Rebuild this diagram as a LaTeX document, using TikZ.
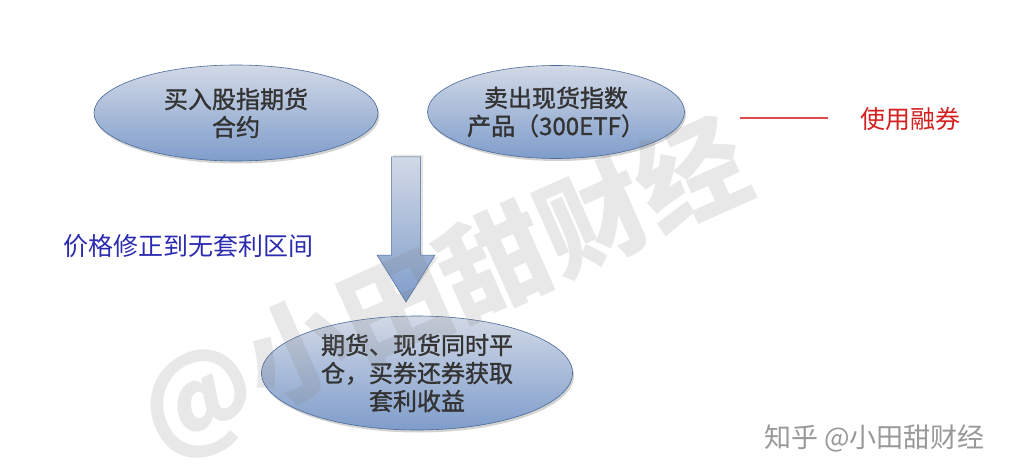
\documentclass[tikz,border=0pt]{standalone}
\usepackage{fontspec}
\setmainfont{Noto Sans CJK SC}
\newfontfamily\cjk{Noto Sans CJK SC}
\newfontfamily\cjkm[FakeBold=1.3]{Noto Sans CJK SC}
\usetikzlibrary{shadows,shapes.geometric}
\definecolor{ovtop}{HTML}{D2D9E6}
\definecolor{ovbot}{HTML}{7F9DCB}
\definecolor{ovline}{HTML}{4A6A9A}
\definecolor{notblue}{HTML}{2B2BB0}
\definecolor{notred}{HTML}{D42020}
\begin{document}
\begin{tikzpicture}[x=1pt,y=-1pt,
  oval/.style={ellipse, draw=ovline, line width=0.6pt,
    top color=ovtop, bottom color=ovbot,
    drop shadow={shadow xshift=1.5pt, shadow yshift=-2.5pt, opacity=0.35},
    inner sep=0pt, align=center, font=\cjkm\fontsize{24}{28}\selectfont, text=black!80},
  note/.style={font=\cjk\fontsize{25}{28}\selectfont, anchor=west, inner sep=0pt}]
\useasboundingbox (0,0) rectangle (1024,473);
\fill[white] (0,0) rectangle (1024,473);
\node[oval, minimum width=284pt, minimum height=96pt] (a) at (236,113) {买入股指期货\\合约};
\node[oval, minimum width=257pt, minimum height=93pt] (b) at (556,112) {卖出现货指数\\产品（300ETF）};
\node[oval, minimum width=311pt, minimum height=114pt] (c) at (417,373) {期货、现货同时平\\仓，买券还券获取\\套利收益};
\coordinate (arrtop) at (406,157);
\coordinate (arrtip) at (406,302);
\fill[gray!40, opacity=0.5] ([xshift=-13pt,yshift=2pt]arrtop) -- ([xshift=17pt,yshift=2pt]arrtop) -- ([xshift=17pt]406,257) -- ([xshift=32pt]406,257) -- ([yshift=3pt, xshift=2pt]arrtip) -- ([xshift=-27pt]406,257) -- ([xshift=-13pt]406,257) -- cycle;
\shade[top color=ovtop, bottom color=ovbot, draw=ovline, line width=0.5pt]
  ([xshift=-14.5pt]arrtop) -- ([xshift=14.5pt]arrtop) -- ([xshift=14.5pt]406,255) -- ([xshift=29pt]406,255) -- (arrtip) -- ([xshift=-29pt]406,255) -- ([xshift=-14.5pt]406,255) -- cycle;
\node[note, text=notblue] (fix) at (63,246) {价格修正到无套利区间};
\coordinate (rl1) at (740,118);
\coordinate (rl2) at (828,118);
\draw[notred!80, line width=1.5pt] (rl1) -- (rl2);
\node[note, text=notred] (rq) at (860,119) {使用融券};
\node[font=\cjk\bfseries\fontsize{108}{108}\selectfont, text=gray, opacity=0.18, rotate=24, inner sep=0pt] (wm) at (445,290) {@小田甜财经};
\node[font=\cjk\fontsize{27}{27}\selectfont, text=gray!80, anchor=west, inner sep=0pt] (zh) at (764,438) {知乎 @小田甜财经};
\end{tikzpicture}
\end{document}
